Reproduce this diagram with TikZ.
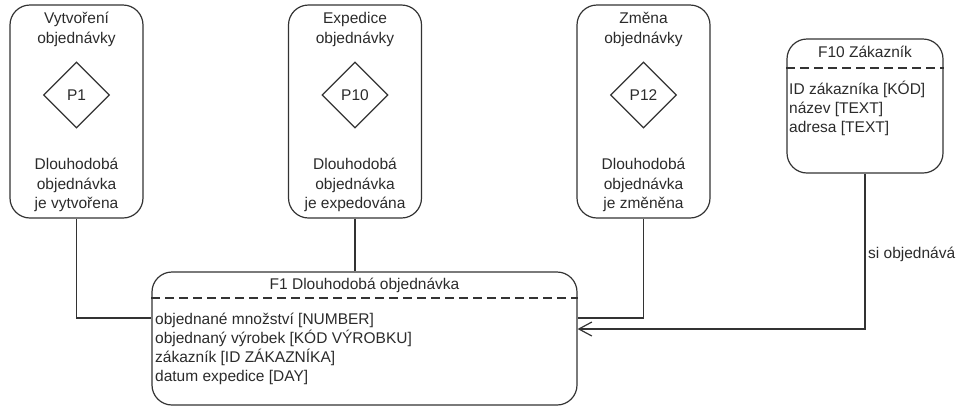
\documentclass[tikz,border=0pt]{standalone}
\usepackage{fontspec}
\setmainfont{Liberation Sans}
\usetikzlibrary{shapes.geometric,arrows.meta}
\definecolor{ink}{HTML}{2B2B2B}
\definecolor{edge}{HTML}{333333}
\begin{document}
\begin{tikzpicture}[x=1bp,y=-1bp,
  every node/.style={font=\fontsize{15.5bp}{19bp}\selectfont, text=ink, inner sep=0pt},
  procbox/.style={draw=edge, line width=1.2bp, rounded corners=20bp,
    minimum width=133bp, minimum height=213bp},
  proctext/.style={align=center, font=\fontsize{15.5bp}{19.5bp}\selectfont},
  procid/.style={diamond, draw=edge, line width=1.2bp, minimum width=66bp, minimum height=66bp},
  entity/.style={draw=edge, line width=1.2bp, rounded corners=20bp},
  sep/.style={draw=edge, line width=1.2bp, dash pattern=on 9bp off 5bp},
  attrs/.style={align=left, anchor=north west},
  conn/.style={draw=edge, line width=1.2bp},
  barb/.style={-{Straight Barb[length=13bp,width=14bp,line width=1.2bp]}}
]
\useasboundingbox (0,0) rectangle (960,407);

% process boxes
\node[procbox] (box1) at (76.5,111.5) {};
\node[proctext] (t1a) at (76.5,29.5) {Vytvoření\\objednávky};
\node[procid] (p1) at (76.5,95) {P1};
\node[proctext] (t1b) at (76.5,185) {Dlouhodobá\\objednávka\\je vytvořena};

\node[procbox] (box2) at (355,111.5) {};
\node[proctext] (t2a) at (355,29.5) {Expedice\\objednávky};
\node[procid] (p10) at (355,95) {P10};
\node[proctext] (t2b) at (355,185) {Dlouhodobá\\objednávka\\je expedována};

\node[procbox] (box3) at (643.5,111.5) {};
\node[proctext] (t3a) at (643.5,29.5) {Změna\\objednávky};
\node[procid] (p12) at (643.5,95) {P12};
\node[proctext] (t3b) at (643.5,185) {Dlouhodobá\\objednávka\\je změněna};

% entity F1
\node[entity, minimum width=425bp, minimum height=133bp] (f1) at (364.5,338.5) {};
\node (f1t) at (364.5,285) {F1 Dlouhodobá objednávka};
\draw[sep] (f1.west |- 0,298) -- (f1.east |- 0,298);
\node[attrs] (f1a) at (155,313) {objednané množství [NUMBER]\\objednaný výrobek [KÓD VÝROBKU]\\zákazník [ID ZÁKAZNÍKA]\\datum expedice [DAY]};

% entity F10
\node[entity, minimum width=156bp, minimum height=134bp] (f10) at (865,106) {};
\node (f10t) at (865,52) {F10 Zákazník};
\draw[sep] (f10.west |- 0,68) -- (f10.east |- 0,68);
\node[attrs] (f10a) at (789,81) {ID zákazníka [KÓD]\\název [TEXT]\\adresa [TEXT]};

% connectors
\draw[conn] (box1.south) |- ([yshift=20.5bp]f1.west);
\draw[conn] (box2.south) -- (box2.south |- f1.north);
\draw[conn] (box3.south) |- ([yshift=20.5bp]f1.east);
\draw[conn, barb] (f10.south) |- ([yshift=9.5bp]f1.east);
\node[anchor=west] (rel) at (868,254) {si objednává};
\end{tikzpicture}
\end{document}
